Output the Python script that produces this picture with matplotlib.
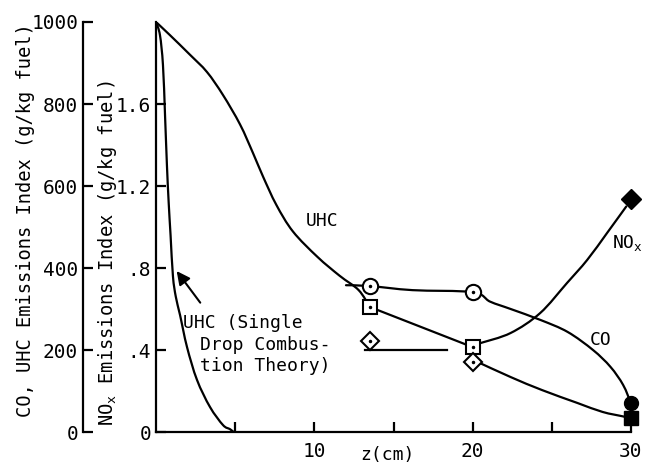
import matplotlib
matplotlib.use("Agg")
import matplotlib.pyplot as plt
from matplotlib.path import Path
from matplotlib.patches import PathPatch

plt.rcParams['font.family'] = ['DejaVu Sans Mono', 'DejaVu Sans']
plt.rcParams['mathtext.fontset'] = 'custom'
plt.rcParams['mathtext.rm'] = 'DejaVu Sans Mono'
plt.rcParams['mathtext.it'] = 'DejaVu Sans Mono'
plt.rcParams['mathtext.default'] = 'regular'

# ---- data ----
# UHC measured curve (g/kg fuel), three pieces
uhc_a_z = [0, 0.88, 2.15, 3.22, 4.23, 5.31, 6.13, 6.76, 7.6, 8.65, 10.2, 11.6, 12.8, 13.5]
uhc_a_v = [1000, 968, 920, 878, 822, 750, 680, 623, 554, 489, 427, 381, 346, 305]
uhc_b_z = [13.5, 20]
uhc_b_v = [305, 207]
uhc_c_z = [20.3, 22.4, 24.4, 26.6, 28.2, 29.5, 30]
uhc_c_v = [171, 134, 102, 71, 49, 38, 33]
# UHC single drop combustion theory
sd_z = [0, 0.25, 0.44, 0.57, 0.69, 0.8, 0.92, 1.07, 1.25, 1.52, 1.96, 2.59, 3.41, 4.23, 4.67, 4.9]
sd_v = [1000, 968, 895, 773, 651, 560, 480, 380, 330, 285, 207, 127, 61, 17, 7, 0]
# CO curve
co_curve_z = [12.0, 13.5, 16.2, 20, 21.1, 22.4, 24.3, 26.0, 27.6, 28.7, 29.5, 30]
co_curve_v = [358, 356, 346, 341, 318, 300, 273, 244, 200, 159, 115, 70]
# NOx curve (g/kg fuel)
nox_curve_z = [20.5, 22.4, 24.26, 25.96, 27.23, 28.49, 29.7]
nox_curve_v = [0.434, 0.483, 0.58, 0.727, 0.839, 0.971, 1.10]

# measured points
meas_z = [13.5, 20]
co_pts = [356, 341]
uhc_pts = [305, 207]
nox_pts = [0.444, 0.341]
end_z = [30]
co_end = [70]
uhc_end = [35]
nox_end = [1.137]

# connector from NOx curve to the diamond at 13.5
nox_link_z = [13.2, 18.4]
nox_link_v = [0.40, 0.40]

x_major = [10, 20, 30]
x_minor = [5, 15, 25]
y1_ticks = [0, 200, 400, 600, 800, 1000]
y1_labels = ['0', '200', '400', '600', '800', '1000']
y2_ticks = [0, 0.4, 0.8, 1.2, 1.6]
y2_labels = ['0', '.4', '.8', '1.2', '1.6']

W, H = 653, 465
fig = plt.figure(figsize=(W / 100, H / 100), dpi=100)
x0, x1, y0, y1 = 156, 631, 432, 22
ax = fig.add_axes([x0 / W, (H - y0) / H, (x1 - x0) / W, (y0 - y1) / H])
ax.set_xlim(0, 30)
ax.set_ylim(0, 1000)
ax.patch.set_alpha(0)

ax2 = ax.twinx()
ax2.set_ylim(0, 2.0)

lw = 1.6
# outer axis
for s in ['top', 'right']:
    ax.spines[s].set_visible(False)
ax.spines['left'].set_position(('axes', (83 - x0) / (x1 - x0)))
ax.spines['left'].set_linewidth(lw)
ax.spines['bottom'].set_linewidth(lw)
ax.set_yticks(y1_ticks)
ax.set_yticklabels(y1_labels)
ax.set_xticks(x_major)
ax.set_xticks(x_minor, minor=True)
ax.set_xticklabels(['10', '20', '30'])
ax.tick_params(axis='both', which='both', direction='in', length=7, width=lw, labelsize=14)
ax.tick_params(axis='y', pad=3.5)
ax.tick_params(axis='x', pad=7)

# inner NOx axis
for s in ['top', 'right', 'bottom']:
    ax2.spines[s].set_visible(False)
ax2.spines['left'].set_visible(True)
ax2.spines['left'].set_linewidth(lw)
ax2.yaxis.set_ticks_position('left')
ax2.yaxis.set_label_position('left')
ax2.set_yticks(y2_ticks)
ax2.set_yticklabels(y2_labels)
ax2.tick_params(axis='y', direction='in', length=7, width=lw, labelsize=14, pad=3.5)


def smooth_curve(axis, xs, ys):
    """Draw a smooth (Catmull-Rom as cubic Bezier) curve through the given points."""
    n = len(xs)
    pts = list(zip(xs, ys))
    verts = [pts[0]]
    codes = [Path.MOVETO]
    for i in range(n - 1):
        p0 = pts[i - 1] if i > 0 else pts[i]
        p1 = pts[i]
        p2 = pts[i + 1]
        p3 = pts[i + 2] if i + 2 < n else pts[i + 1]
        c1 = (p1[0] + (p2[0] - p0[0]) / 6.0, p1[1] + (p2[1] - p0[1]) / 6.0)
        c2 = (p2[0] - (p3[0] - p1[0]) / 6.0, p2[1] - (p3[1] - p1[1]) / 6.0)
        verts += [c1, c2, p2]
        codes += [Path.CURVE4] * 3
    patch = PathPatch(Path(verts, codes), facecolor='none', edgecolor='black', lw=lw,
                      capstyle='round', joinstyle='round')
    axis.add_patch(patch)


# curves
smooth_curve(ax, uhc_a_z, uhc_a_v)
ax.plot(uhc_b_z, uhc_b_v, color='black', lw=lw)
smooth_curve(ax, uhc_c_z, uhc_c_v)
smooth_curve(ax, sd_z, sd_v)
smooth_curve(ax, co_curve_z, co_curve_v)
smooth_curve(ax2, nox_curve_z, nox_curve_v)
ax2.plot(nox_link_z, nox_link_v, color='black', lw=lw)

mk = dict(linestyle='none', markerfacecolor='white', markeredgecolor='black', markeredgewidth=1.5)
ax.plot(meas_z, co_pts, marker='o', markersize=11, **mk)
ax.plot(meas_z, uhc_pts, marker='s', markersize=10, **mk)
ax2.plot(meas_z, nox_pts, marker='D', markersize=9, **mk)
ax.plot(meas_z, co_pts, '.', color='black', markersize=3)
ax.plot(meas_z, uhc_pts, '.', color='black', markersize=3)
ax2.plot(meas_z, nox_pts, '.', color='black', markersize=3)

ax.plot(end_z, uhc_end, marker='s', markersize=10, color='black', linestyle='none', clip_on=False)
ax.plot(end_z, co_end, marker='o', markersize=10, color='black', linestyle='none', clip_on=False)
ax2.plot(end_z, nox_end, marker='D', markersize=10, color='black', linestyle='none', clip_on=False)

# labels on curves
ax.text(10.5, 515, 'UHC', ha='center', va='center', fontsize=13)
ax.text(28.1, 224, 'CO', ha='center', va='center', fontsize=13)
ax.text(28.8, 461, 'NO$_{x}$', ha='left', va='center', fontsize=13)
ax.text(1.7, 254, 'UHC (Single', ha='left', va='baseline', fontsize=13)
ax.text(2.78, 200, 'Drop Combus-', ha='left', va='baseline', fontsize=13)
ax.text(2.78, 149, 'tion Theory)', ha='left', va='baseline', fontsize=13)
ax.annotate('', xy=(1.2, 398), xytext=(2.9, 310),
            arrowprops=dict(arrowstyle='-|>', color='black', lw=1.5, mutation_scale=20))

# axis titles
fig.text(26 / W, 1 - 220 / H, 'CO, UHC Emissions Index (g/kg fuel)', rotation=90,
         ha='center', va='center', fontsize=13.5)
fig.text(108 / W, 1 - 253 / H, 'NO$_{x}$ Emissions Index (g/kg fuel)', rotation=90,
         ha='center', va='center', fontsize=13.5)
fig.text(387 / W, 1 - 455 / H, 'z(cm)', ha='center', va='center', fontsize=13)

fig.savefig('out.png', dpi=100)
